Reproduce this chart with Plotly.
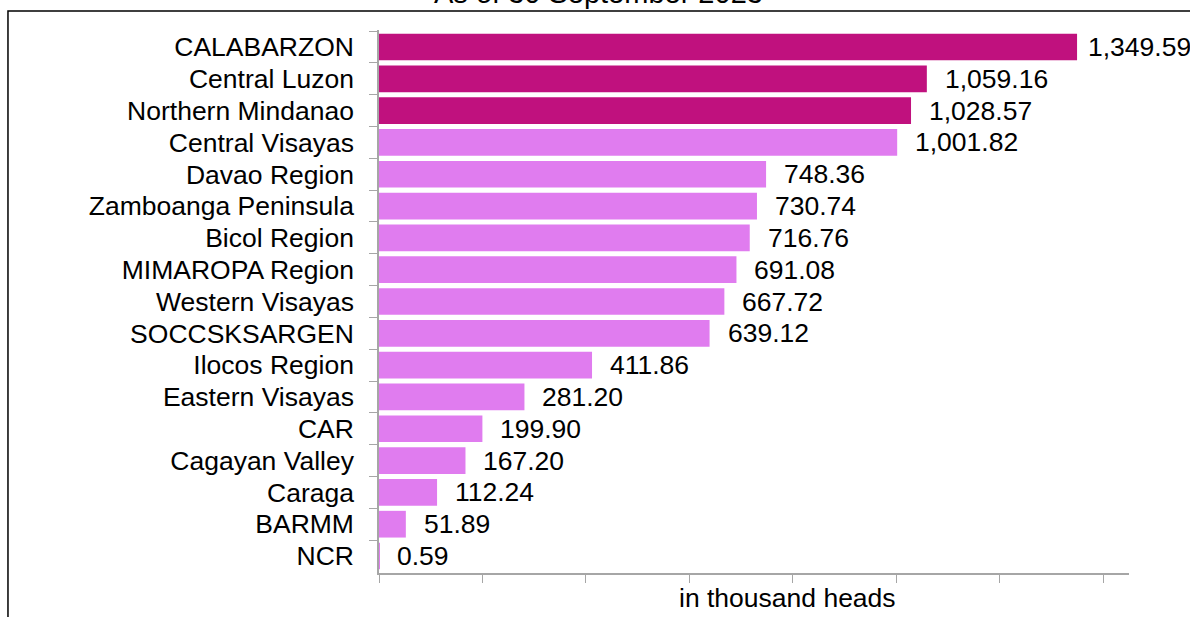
import plotly.graph_objects as go

regions = ["CALABARZON", "Central Luzon", "Northern Mindanao", "Central Visayas",
           "Davao Region", "Zamboanga Peninsula", "Bicol Region", "MIMAROPA Region",
           "Western Visayas", "SOCCSKSARGEN", "Ilocos Region", "Eastern Visayas",
           "CAR", "Cagayan Valley", "Caraga", "BARMM", "NCR"]
values = [1349.59, 1059.16, 1028.57, 1001.82, 748.36, 730.74, 716.76, 691.08,
          667.72, 639.12, 411.86, 281.20, 199.90, 167.20, 112.24, 51.89, 0.59]
top_n = 3
title_text = "As of 30 September 2023"
x_title = "in thousand heads"

dark = "#C0117E"
light = "#E07CEF"
colors = [dark if i < top_n else light for i in range(len(values))]
FONT = "Liberation Sans, Arial, sans-serif"
FS = 26.5

fig = go.Figure(go.Bar(
    y=regions, x=values, orientation="h",
    marker=dict(color=colors, line=dict(width=0)),
    hoverinfo="skip",
))

annotations = []
for i, (r, v) in enumerate(zip(regions, values)):
    annotations.append(dict(x=v, y=r, xref="x", yref="y", text=f"{v:,.2f}",
                            showarrow=False, xanchor="left", xshift=9 if i == 0 else 16,
                            font=dict(size=FS, color="#000000", family=FONT)))
annotations.append(dict(x=0.292, y=1.0, xref="paper", yref="paper", yshift=19,
                        text=title_text, showarrow=False, xanchor="center",
                        yanchor="bottom", font=dict(size=29, color="#000000", family=FONT)))
annotations.append(dict(x=0.545, y=0, xref="paper", yref="paper", yshift=-8,
                        text=x_title, showarrow=False, xanchor="center",
                        yanchor="top", font=dict(size=FS, color="#000000", family=FONT)))

fig.update_layout(
    width=1190, height=617,
    margin=dict(l=379, r=61, t=30, b=44),
    paper_bgcolor="white", plot_bgcolor="white",
    bargap=0.16,
    showlegend=False,
    font=dict(family=FONT, size=FS, color="#000000"),
    annotations=annotations,
    shapes=[dict(type="rect", xref="paper", yref="paper",
                 x0=-0.4947, x1=1.3, y0=-0.3, y1=1.035,
                 line=dict(color="#000000", width=1.5), layer="below")],
)
fig.update_xaxes(range=[0, 1450], showgrid=False, zeroline=False,
                 showline=True, linecolor="#A6A6A6", linewidth=1.5,
                 ticks="outside", ticklen=8, tickcolor="#A6A6A6",
                 tickmode="linear", tick0=0, dtick=200, showticklabels=False)
fig.update_yaxes(categoryorder="array", categoryarray=regions, autorange="reversed",
                 showgrid=False, zeroline=False, showline=True, linecolor="#A6A6A6",
                 linewidth=1.5, ticks="outside", ticklen=8, tickcolor="#A6A6A6",
                 tickmode="linear", tick0=0, dtick=1,
                 tickson="boundaries", ticklabelstandoff=18,
                 tickfont=dict(size=FS, color="#000000", family=FONT))

fig.write_html("out.html", config={"displayModeBar": False},
               post_script="document.body.style.margin='0';")
